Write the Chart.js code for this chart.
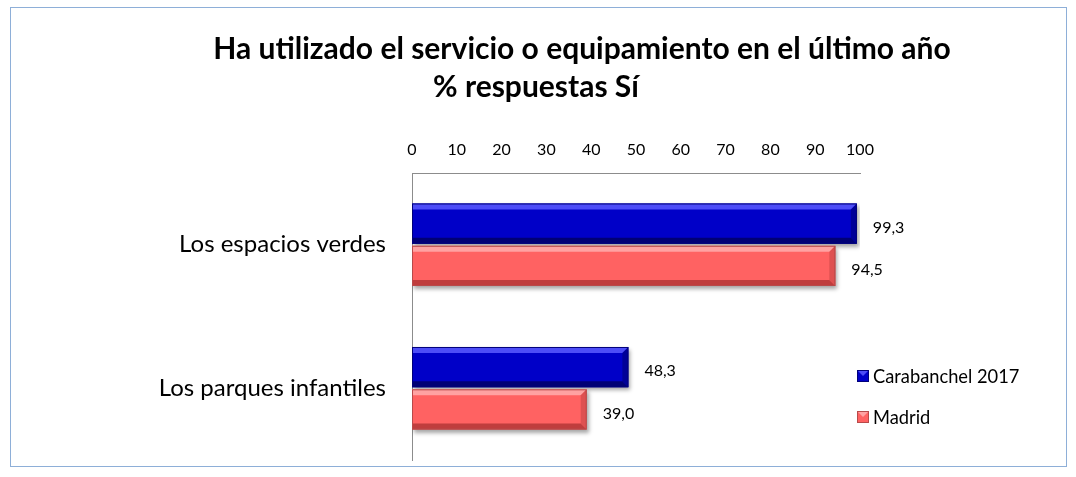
<!DOCTYPE html>
<html>
<head>
<meta charset="utf-8">
<script src="https://cdn.jsdelivr.net/npm/chart.js@4"></script>
<style>
  html, body { margin: 0; padding: 0; background: #fff; }
  #wrap { width: 1076px; height: 477px; position: relative; }
</style>
</head>
<body>
<div id="wrap"><canvas id="chart" width="1076" height="477"></canvas></div>
<script>
const categories = ['Los espacios verdes', 'Los parques infantiles'];
const seriesNames = ['Carabanchel 2017', 'Madrid'];
const carabanchel = [99.3, 48.3];
const madrid = [94.5, 39.0];
const xTicks = [0, 10, 20, 30, 40, 50, 60, 70, 80, 90, 100];
const titleLines = ['Ha utilizado el servicio o equipamiento en el último año', '% respuestas Sí'];

const FONT = 'Lato, "Open Sans", sans-serif';

const barStyles = [
  { fill: '#0000C8', light: 'rgba(90,90,255,0.85)', dark: 'rgba(0,0,90,0.75)', side: 'rgba(0,0,120,0.6)', border: '#00007A' },
  { fill: '#FF6262', light: 'rgba(255,170,170,0.9)', dark: 'rgba(170,50,50,0.75)', side: 'rgba(200,70,70,0.6)', border: '#B84A4A' }
];

// marco del gráfico + título
const framePlugin = {
  id: 'frame',
  beforeDraw(chart) {
    const ctx = chart.ctx;
    ctx.save();
    ctx.fillStyle = '#fff';
    ctx.fillRect(0, 0, chart.width, chart.height);
    ctx.strokeStyle = '#8EAFD8';
    ctx.lineWidth = 1;
    ctx.strokeRect(10.5, 7.5, 1056, 459);
    ctx.fillStyle = '#000';
    ctx.font = 'bold 30px ' + FONT;
    ctx.textBaseline = 'middle';
    ctx.textAlign = 'center';
    ctx.fillText(titleLines[0], 582, 49);
    ctx.textAlign = 'left';
    ctx.fillText(titleLines[1], 433, 87);
    ctx.restore();
  }
};

// sombra y relieve de las barras
const bevelPlugin = {
  id: 'bevel',
  beforeDatasetsDraw(chart) {
    const ctx = chart.ctx;
    ctx.save();
    ctx.shadowColor = 'rgba(0,0,0,0.35)';
    ctx.shadowBlur = 4;
    ctx.shadowOffsetX = 2;
    ctx.shadowOffsetY = 3;
  },
  afterDatasetsDraw(chart) {
    const ctx = chart.ctx;
    ctx.restore();
    ctx.save();
    chart.data.datasets.forEach((ds, di) => {
      const st = barStyles[di];
      chart.getDatasetMeta(di).data.forEach(bar => {
        const x0 = bar.base, x1 = bar.x;
        const top = bar.y - bar.height / 2, bot = bar.y + bar.height / 2;
        const b = 6;
        ctx.fillStyle = st.light;
        ctx.beginPath();
        ctx.moveTo(x0, top); ctx.lineTo(x1, top); ctx.lineTo(x1 - b, top + b); ctx.lineTo(x0, top + b);
        ctx.closePath(); ctx.fill();
        ctx.fillStyle = st.dark;
        ctx.beginPath();
        ctx.moveTo(x0, bot); ctx.lineTo(x1, bot); ctx.lineTo(x1 - b, bot - b); ctx.lineTo(x0, bot - b);
        ctx.closePath(); ctx.fill();
        ctx.fillStyle = st.side;
        ctx.beginPath();
        ctx.moveTo(x1, top); ctx.lineTo(x1, bot); ctx.lineTo(x1 - b, bot - b); ctx.lineTo(x1 - b, top + b);
        ctx.closePath(); ctx.fill();
        ctx.strokeStyle = st.border;
        ctx.lineWidth = 1;
        ctx.strokeRect(x0 + 0.5, top + 0.5, x1 - x0 - 1, bot - top - 1);
      });
    });
    // etiquetas de valores
    ctx.fillStyle = '#000';
    ctx.font = '16px ' + FONT;
    ctx.textAlign = 'left';
    ctx.textBaseline = 'middle';
    chart.data.datasets.forEach((ds, di) => {
      chart.getDatasetMeta(di).data.forEach((bar, i) => {
        const txt = ds.data[i].toFixed(1).replace('.', ',');
        ctx.fillText(txt, bar.x + 16, bar.y + 4);
      });
    });
    // leyenda
    const legendY = [376, 417];
    ctx.font = '18.3px ' + FONT;
    seriesNames.forEach((name, i) => {
      const st = barStyles[i];
      const y = legendY[i];
      ctx.fillStyle = st.fill;
      ctx.fillRect(857, y - 6, 12, 12);
      ctx.fillStyle = st.light;
      ctx.beginPath();
      ctx.moveTo(857, y - 6); ctx.lineTo(869, y - 6); ctx.lineTo(863, y); ctx.closePath(); ctx.fill();
      ctx.strokeStyle = st.border;
      ctx.strokeRect(857.5, y - 5.5, 11, 11);
      ctx.fillStyle = '#000';
      ctx.fillText(name, 873, y + 1);
    });
    ctx.restore();
  }
};

new Chart(document.getElementById('chart'), {
  type: 'bar',
  data: {
    labels: categories,
    datasets: [
      { label: seriesNames[0], data: carabanchel, backgroundColor: barStyles[0].fill },
      { label: seriesNames[1], data: madrid, backgroundColor: barStyles[1].fill }
    ]
  },
  options: {
    indexAxis: 'y',
    responsive: false,
    animation: false,
    layout: { padding: { left: 0, right: 216, top: 133, bottom: 17 } },
    datasets: { bar: { barPercentage: 0.95, categoryPercentage: 0.59 } },
    plugins: {
      legend: { display: false },
      title: { display: false },
      tooltip: { enabled: false }
    },
    scales: {
      x: {
        position: 'top',
        min: 0,
        max: 100,
        afterBuildTicks: scale => { scale.ticks = xTicks.map(v => ({ value: v })); },
        afterFit: scale => { scale.height = 40; scale.paddingLeft = 0; scale.paddingRight = 0; },
        grid: { display: false, drawTicks: false },
        border: { display: true, color: '#8C8C8C' },
        ticks: { padding: 14, color: '#000', font: { family: FONT, size: 16 } }
      },
      y: {
        afterFit: scale => { scale.width = 412; scale.paddingTop = 0; scale.paddingBottom = 0; },
        grid: { display: false, drawTicks: false },
        border: { display: true, color: '#8C8C8C' },
        ticks: { padding: 26, color: '#000', font: { family: FONT, size: 24 } }
      }
    }
  },
  plugins: [framePlugin, bevelPlugin]
});
</script>
</body>
</html>
